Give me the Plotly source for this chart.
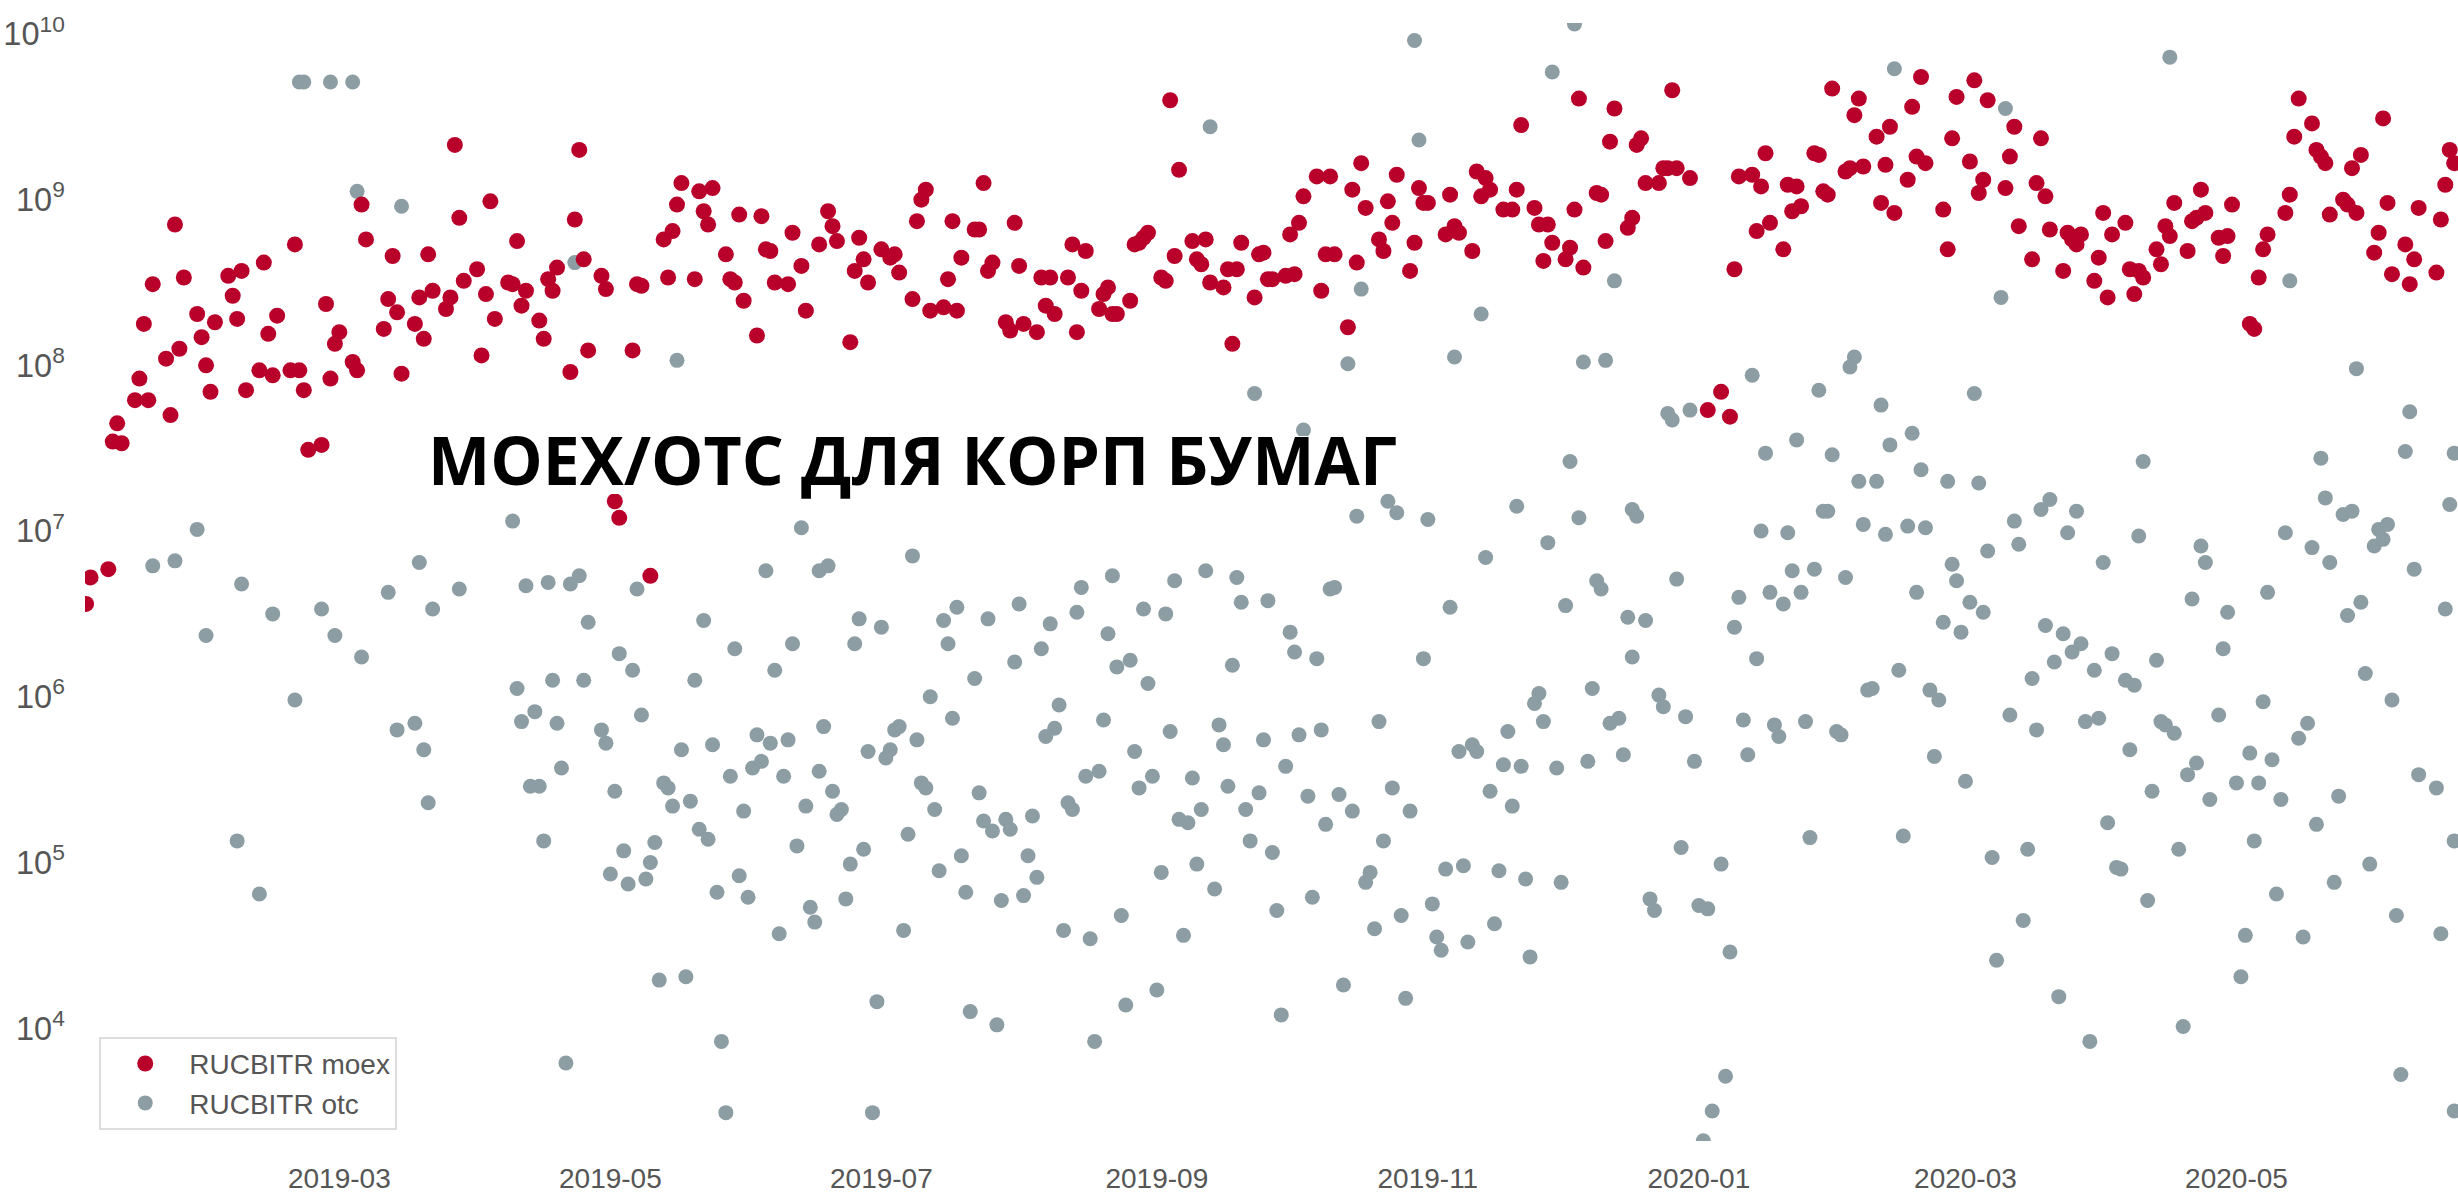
import pandas as pd
import plotly.graph_objects as go

# Each pair: (days since 2019-01-01, log10 of the traded volume)
BASE_DATE = "2019-01-01"
moex_points = [
(3,6.72),(7,6.77),(2,6.56),(9,7.65),(8,7.54),(10,7.53),(13,7.79),(16,7.79),(14,7.92),(21,7.70),(20,8.04),(23,8.10),
(15,8.25),(17,8.49),(22,8.85),(24,8.53),(27,8.31),(28,8.17),(29,8.00),(30,7.84),(31,8.26),(34,8.54),(37,8.57),(35,8.42),
(36,8.28),(38,7.85),(41,7.97),(44,7.94),(42,8.62),(43,8.19),(45,8.30),(48,7.97),(50,7.97),(51,7.85),(49,8.73),(52,7.49),
(55,7.52),(56,8.37),(59,8.20),(58,8.13),(57,7.92),(62,8.02),(63,7.97),(64,8.97),(65,8.76),(69,8.22),(70,8.40),(71,8.66),
(72,8.32),(73,7.95),(76,8.25),(77,8.41),(78,8.16),(79,8.67),(80,8.45),(83,8.34),(84,8.41),(85,9.33),(86,8.89),(87,8.51),
(90,8.58),(91,8.06),(92,8.43),(93,8.99),(94,8.28),(97,8.50),(98,8.49),(99,8.75),(100,8.36),(101,8.45),(104,8.27),(105,8.16),
(106,8.52),(107,8.45),(108,8.59),(111,7.96),(112,8.88),(113,9.30),(114,8.64),(115,8.09),(118,8.54),(119,8.46),(121,7.18),
(122,7.08),(125,8.09),(126,8.49),(127,8.48),(129,6.73),(132,8.76),(133,8.53),(134,8.81),(135,8.97),(136,9.10),(139,8.52),
(140,9.05),(141,8.93),(142,8.85),(143,9.07),(146,8.67),(147,8.52),(148,8.50),(149,8.91),(150,8.39),(153,8.18),(154,8.90),
(155,8.70),(156,8.69),(157,8.50),(160,8.49),(161,8.80),(163,8.60),(164,8.33),(167,8.73),
(169,8.93),(170,8.84),(171,8.75),(174,8.14),(175,8.57),(176,8.77),(177,8.64),(178,8.50),(181,8.70),(183,8.65),(184,8.67),
(185,8.56),(188,8.40),(189,8.87),(190,9.00),(191,9.06),(192,8.33),(195,8.35),(196,8.52),(197,8.87),(198,8.33),(199,8.65),
(202,8.82),(203,8.82),(204,9.10),(205,8.57),(206,8.62),(209,8.26),(210,8.21),(211,8.86),(212,8.60),(213,8.25),(216,8.20),
(217,8.53),(218,8.36),(219,8.53),(220,8.31),(223,8.53),(224,8.73),(225,8.20),(226,8.45),(227,8.69),(230,8.34),(231,8.43),
(232,8.47),(233,8.31),(234,8.31),(237,8.39),(238,8.73),(239,8.74),(240,8.77),(241,8.80),(244,8.53),(245,8.51),(246,9.60),
(247,8.66),(248,9.18),(251,8.75),(252,8.64),(253,8.61),(254,8.76),(255,8.50),(258,8.47),(259,8.58),(260,8.13),(261,8.58),
(262,8.74),(265,8.41),(266,8.67),(267,8.68),(268,8.52),(269,8.52),(272,8.54),(273,8.79),(274,8.55),(275,8.86),(276,9.02),
(279,9.14),(280,8.45),(281,8.67),(282,9.14),(283,8.67),(286,8.23),(287,9.06),(288,8.62),(289,9.22),(290,8.95),(293,8.76),
(294,8.69),(295,8.99),(296,8.86),(297,9.15),(300,8.57),(301,8.74),(302,9.07),(303,8.98),(304,8.98),(308,8.79),(309,9.03),
(310,8.84),(311,8.80),(314,8.69),(315,9.17),(316,9.02),(317,9.13),(318,9.06),(321,8.94),(323,8.94),(324,9.06),(325,9.45),
(328,8.95),(329,8.85),(330,8.63),(331,8.85),(332,8.74),(335,8.64),(336,8.71),(337,8.94),(338,9.61),(339,8.59),(342,9.04),
(343,9.03),(344,8.75),(345,9.35),(346,9.55),(349,8.83),(350,8.89),(351,9.33),(352,9.37),
(353,9.10),(356,9.10),(357,9.19),(359,9.66),(358,9.19),(360,9.19),(363,9.13),(367,7.73),(370,7.84),(372,7.69),(373,8.58),
(374,9.14),(377,9.15),(378,8.81),(379,9.08),(380,9.28),(381,8.86),(384,8.70),(385,9.09),(386,8.93),(387,9.08),(388,8.96),
(391,9.28),(392,9.27),(393,9.05),(394,9.03),(395,9.67),(398,9.17),(399,9.19),(400,9.51),(401,9.61),(402,9.20),(405,9.38),
(406,8.98),(407,9.21),(408,9.44),(409,8.92),(412,9.12),(413,9.56),(414,9.26),(415,9.74),(416,9.22),(420,8.94),(421,8.70),
(422,9.37),(423,9.62),(426,9.23),(427,9.72),(428,9.04),(429,9.12),(430,9.60),(434,9.07),(435,9.26),(436,9.44),(437,8.84),
(440,8.64),(441,9.10),(442,9.37),(443,9.02),(444,8.82),(447,8.57),(448,8.80),(449,8.76),(450,8.73),(451,8.79),(454,8.51),
(455,8.65),(456,8.92),(457,8.41),(458,8.79),(461,8.86),(462,8.58),(463,8.43),(464,8.57),(465,8.53),(468,8.70),(469,8.61),
(470,8.84),(471,8.78),(472,8.98),(475,8.69),(476,8.87),(477,8.89),(478,9.06),(479,8.92),(482,8.77),(483,8.66),(484,8.78),
(485,8.97),(489,8.25),(490,8.22),(491,8.53),(492,8.70),(493,8.79),(497,8.92),(498,9.03),(499,9.38),(500,9.61),(503,9.46),
(504,9.30),(505,9.26),(506,9.22),(507,8.91),(510,9.00),(511,8.97),(512,9.19),(513,8.92),(514,9.27),(517,8.68),(518,8.80),
(519,9.49),(520,8.98),(521,8.55),(524,8.73),(525,8.49),(526,8.64),(527,8.95),(531,8.56),(532,8.88),(533,9.09),(534,9.30),
(535,9.22),
]
otc_points = [
(27,7.01),(17,6.79),(22,6.82),(37,6.68),(50,9.71),(51,9.71),(57,9.71),(62,9.71),(63,9.05),(73,8.96),(77,6.81),(70,6.63),
(86,6.65),(98,7.06),(101,6.67),(106,6.69),(111,6.68),(113,6.73),(112,8.62),(126,6.65),(135,8.03),(155,6.76),(163,7.02),(167,6.76),
(29,6.37),(44,6.50),(55,6.53),(58,6.37),(64,6.24),(49,5.98),(36,5.13),(41,4.81),(80,6.53),(72,5.80),(76,5.84),(78,5.68),
(79,5.36),(115,6.45),(122,6.26),(125,6.16),(107,6.10),(114,6.10),(99,6.05),(100,5.85),(103,5.91),(108,5.84),(109,5.57),(102,5.46),
(104,5.46),(118,5.80),(119,5.72),(121,5.43),(127,5.89),(105,5.13),(123,5.07),(130,5.12),(129,5.00),(120,4.93),(124,4.87),(128,4.90),
(110,3.79),(131,4.29),(137,4.31),(145,3.92),(146,3.49),(132,5.48),(133,5.45),(134,5.34),(138,5.37),(136,5.68),(139,6.10),(141,6.46),
(143,5.71),(148,6.29),(140,5.20),(142,5.14),(144,4.82),(149,4.92),(151,4.79),(147,5.52),(150,5.31),(153,5.77),(152,5.57),(154,5.61),
(156,5.72),(157,6.16),(160,5.74),(161,6.32),(159,5.52),(158,4.57),(162,5.10),(164,5.34),(165,4.73),(166,4.64),(168,5.82),(167,5.55),
(175,6.32),(176,6.47),(181,6.42),(170,5.43),(172,5.32),(171,5.29),(178,5.67),(183,5.68),(182,5.63),(184,5.80),(185,5.82),(189,5.74),
(192,6.00),(195,6.46),(196,6.32),(198,6.54),(202,6.11),(205,6.47),(197,5.87),(212,6.56),(211,6.21),(217,6.29),(219,6.44),(225,6.51),
(221,5.95),(220,5.81),(218,5.76),(190,5.48),(191,5.45),(193,5.32),(187,5.17),(177,5.08),(174,4.99),(173,4.78),(186,4.59),(180,4.16),
(179,3.49),(203,5.42),(204,5.25),(206,5.19),(209,5.26),(210,5.20),(215,5.28),(199,5.04),(194,4.95),(200,4.82),(208,4.77),(213,4.80),
(214,5.04),(216,4.91),(201,4.10),(207,4.02),(222,4.59),(228,4.54),(235,4.68),(229,3.92),(236,4.14),(243,4.23),(223,5.36),(224,5.32),
(227,5.52),(230,5.55),(231,5.86),(232,6.38),(234,6.18),(237,6.22),(240,6.53),(245,6.50),(241,6.08),(238,5.67),(242,5.52),(239,5.45),
(246,5.79),(251,5.51),(248,5.26),(250,5.24),(253,5.32),(244,4.94),(252,4.99),(256,4.84),(249,4.56),(257,5.83),(258,5.71),(260,6.19),
(262,6.57),(268,6.58),(273,6.39),(274,6.27),(279,6.23),(267,5.74),(275,5.77),(280,5.80),(272,5.58),(259,5.46),(266,5.42),(263,5.32),
(264,5.13),(269,5.06),(277,5.40),(284,5.41),(281,5.23),(287,5.31),(296,5.45),(300,5.31),(294,5.13),(293,5.85),(303,6.23),(270,4.71),
(278,4.79),(271,4.08),(285,4.26),(299,4.18),(291,4.94),(290,4.88),(292,4.60),(298,4.68),(305,4.75),(306,4.55),(307,4.47),(308,4.96),
(312,4.98),(313,4.52),(319,4.63),(320,4.95),(326,4.90),(327,4.43),(334,4.88),(309,6.54),(311,5.67),(314,5.71),(315,5.67),(322,5.79),
(321,5.59),(325,5.58),(318,5.43),(323,5.34),(330,5.85),(328,5.96),(329,6.02),(333,5.57),(340,5.61),(341,6.05),(335,6.55),(345,5.84),
(347,5.87),(348,5.65),(349,6.48),(350,6.24),
(301,9.96),(332,9.77),(337,10.06),(255,9.44),(302,9.36),(346,8.51),(289,8.46),(316,8.31),(310,8.05),(339,8.02),(344,8.03),(286,8.01),
(265,7.83),(276,7.61),(336,7.42),(295,7.18),(297,7.11),(288,7.09),(304,7.07),(324,7.15),(338,7.08),(331,6.93),(317,6.84),(350,7.13),
(351,7.09),(169,6.79),(188,6.85),(226,6.66),(233,6.73),(247,6.70),(254,6.76),(261,6.72),(282,6.65),(283,6.66),(342,6.70),(343,6.65),
(409,9.79),(471,9.86),(434,9.55),(433,8.41),(498,8.51),(400,8.05),(399,7.99),(377,7.94),(392,7.85),(427,7.83),(513,7.98),(525,7.72),
(406,7.76),(358,7.71),(359,7.67),(363,7.73),(413,7.59),(408,7.52),(387,7.55),(380,7.47),(395,7.46),(415,7.37),(401,7.30),(405,7.30),
(421,7.30),(428,7.29),(465,7.42),(505,7.44),(524,7.48),(535,7.47),(534,7.16),(506,7.20),(510,7.10),(512,7.12),(444,7.19),(442,7.13),
(450,7.12),(436,7.06),(448,6.99),(393,7.12),(394,7.12),(379,7.00),(385,6.99),(402,7.04),(407,6.98),(412,7.03),(416,7.02),(437,6.92),
(430,6.88),(422,6.80),(423,6.70),(456,6.81),(464,6.97),(478,6.91),(479,6.81),(497,6.99),(503,6.90),(507,6.81),(517,6.91),(518,7.01),
(519,6.95),(520,7.04),(526,6.77),(360,6.71),(386,6.76),(391,6.77),(398,6.72),(381,6.63),(388,6.63),(374,6.60),(414,6.63),(493,6.63),
(353,6.46),(373,6.42),(384,6.56),(420,6.45),(424,6.39),(429,6.51),(426,6.57),(443,6.43),(447,6.38),(451,6.32),(449,6.27),(445,6.21),
(440,6.11),(458,6.26),(454,6.16),(468,6.22),(461,6.10),(463,6.07),(484,6.51),(483,6.29),(511,6.49),(514,6.57),(533,6.53),(515,6.14),
(521,5.98),(476,6.59),(378,6.23),(356,6.01),(357,5.94),(362,5.88),(364,5.61),(375,5.86),(376,5.65),(382,5.83),(383,5.76),(389,5.85),
(396,5.79),(397,5.77),(403,6.04),(404,6.05),(410,6.16),(417,6.04),(419,5.98),(418,5.64),(425,5.49),(435,5.89),(441,5.80),(452,5.85),
(455,5.87),(462,5.68),(469,5.85),(470,5.83),(472,5.78),(482,5.89),(492,5.97),(477,5.60),(475,5.53),(467,5.43),(480,5.38),(486,5.48),
(489,5.66),(491,5.48),(494,5.62),(496,5.38),(500,5.75),(502,5.84),(509,5.40),(504,5.23),(527,5.53),(531,5.45),(490,5.13),(473,5.08),
(457,5.24),(459,4.97),(460,4.96),(466,4.77),(516,4.99),(508,4.88),(495,4.81),(488,4.56),(501,4.55),(522,4.68),(532,4.57),(487,4.31),
(474,4.01),(446,4.19),(453,3.92),(523,3.72),(535,3.50),(535,5.13),(390,5.15),(411,5.16),(431,5.03),(439,5.08),(438,4.65),(432,4.41),
(361,5.09),(370,4.99),(354,4.78),(355,4.71),(365,4.74),(367,4.72),(372,4.46),(371,3.71),(368,3.50),(366,3.32),
]
TITLE = "MOEX/OTC ДЛЯ КОРП БУМАГ"
SERIES_MOEX = "RUCBITR moex"
SERIES_OTC = "RUCBITR otc"
RED = "#B9002A"
GREY = "#8C9DA3"
TEXT = "#555555"
FONT = "Liberation Sans, Arial, sans-serif"


def to_xy(points):
    base = pd.Timestamp(BASE_DATE)
    return ([base + pd.Timedelta(days=d) for d, _ in points], [10 ** v for _, v in points])


fig = go.Figure()
x_otc, y_otc = to_xy(otc_points)
x_moex, y_moex = to_xy(moex_points)
fig.add_trace(go.Scatter(x=x_otc, y=y_otc, mode="markers", name=SERIES_OTC, legendrank=2,
                         marker=dict(color=GREY, size=15, line=dict(width=0))))
fig.add_trace(go.Scatter(x=x_moex, y=y_moex, mode="markers", name=SERIES_MOEX, legendrank=1,
                         marker=dict(color=RED, size=16, line=dict(width=0))))

base = pd.Timestamp(BASE_DATE)
fig.update_layout(
    width=2458, height=1198, autosize=False,
    margin=dict(l=85, r=0, t=23, b=57, autoexpand=False),
    paper_bgcolor="white", plot_bgcolor="white",
    font=dict(family=FONT, size=26, color=TEXT),
    showlegend=True,
    legend=dict(x=0.006, y=0.010, xanchor="left", yanchor="bottom", bgcolor="white",
                bordercolor="#DDDDDD", borderwidth=2, font=dict(size=28, color=TEXT),
                itemsizing="trace", itemwidth=78, entrywidth=205, entrywidthmode="pixels"),
    xaxis=dict(type="date",
               range=[base + pd.Timedelta(days=1.755), base + pd.Timedelta(days=535.86)],
               tick0="2019-03-01", dtick="M2", tickformat="%Y-%m",
               showgrid=False, zeroline=False, showline=False, automargin=False,
               ticks="outside", ticklen=12, tickcolor="rgba(0,0,0,0)",
               tickfont=dict(family=FONT, size=28, color=TEXT)),
    yaxis=dict(type="log", range=[3.319, 10.066], dtick=1, exponentformat="power",
               showgrid=False, zeroline=False, showline=False, automargin=False,
               ticks="outside", ticklen=14, tickcolor="rgba(0,0,0,0)",
               tickfont=dict(family=FONT, size=26, color=TEXT)),
    shapes=[dict(type="rect", xref="paper", yref="paper", x0=0.145, x1=0.5525, y0=0.5787, y1=0.6306,
                 fillcolor="white", line=dict(width=0), layer="above")],
    annotations=[dict(text="<b>" + TITLE + "</b>", xref="paper", yref="paper",
                      x=0.1435, y=0.61, xanchor="left", yanchor="middle", showarrow=False,
                      font=dict(family="Open Sans, sans-serif", size=66, color="black"))],
)
fig.write_html("out.html", config={"displayModeBar": False},
               post_script="document.body.style.margin='0';")
